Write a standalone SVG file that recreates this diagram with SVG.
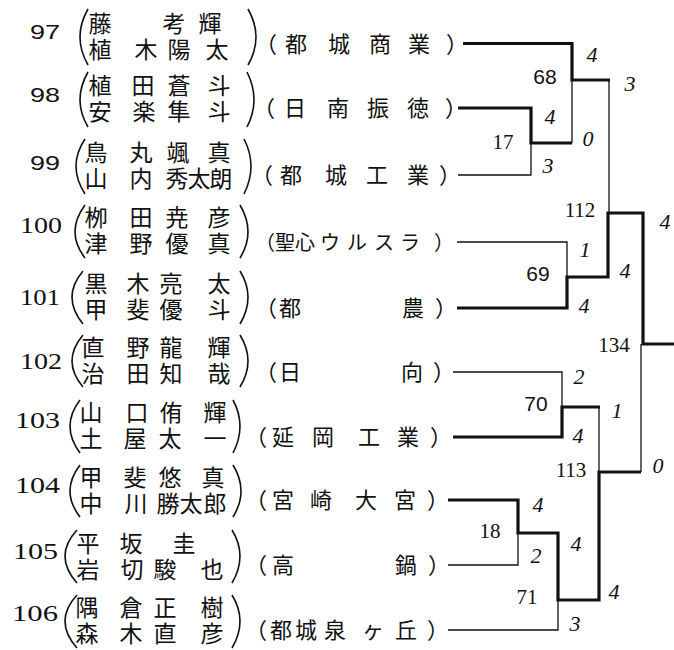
<svg xmlns="http://www.w3.org/2000/svg" width="674" height="650" viewBox="0 0 674 650">
<style>
.nm{font-family:"Liberation Sans","Noto Sans CJK JP","Noto Sans CJK SC",sans-serif;font-size:23px;text-anchor:middle;fill:#111}
.sc{font-family:"Liberation Sans","Noto Sans CJK JP","Noto Sans CJK SC",sans-serif;font-size:22px;text-anchor:middle;fill:#111}
.ns{font-family:"Liberation Sans",Arial,sans-serif;font-size:21px;fill:#111}
.nr{font-family:"Liberation Serif","Times New Roman",serif;font-size:24px;fill:#111}
.ms{font-family:"Liberation Sans",Arial,sans-serif;font-size:21px;text-anchor:middle;fill:#111}
.mr{font-family:"Liberation Serif","Times New Roman",serif;font-size:21px;text-anchor:middle;fill:#111}
.s{font-family:"Liberation Serif","Times New Roman",serif;font-style:italic;font-size:22px;text-anchor:middle;fill:#111}
.br{fill:none;stroke:#111;stroke-width:1.6}
.tk{fill:none;stroke:#111;stroke-width:3.2;stroke-linejoin:miter}
.tn{fill:none;stroke:#111;stroke-width:1.3}
</style>
<rect width="674" height="650" fill="#fff"/>

<g id="p97">
<text class="ns" x="30" y="38.5" textLength="30" lengthAdjust="spacingAndGlyphs">97</text>
<path class="br" d="M88,9 Q72,37 88,65"/>
<text class="nm" x="100 174 210" y="31.5">藤考輝</text>
<text class="nm" x="100 146 179 217" y="57.5">植木陽太</text>
<path class="br" d="M248,9 Q264,37 248,65"/>
<text class="sc" x="266 296 339 380 419 457" y="52">（都城商業）</text>
</g>

<g id="p98">
<text class="ns" x="30" y="101.5" textLength="30" lengthAdjust="spacingAndGlyphs">98</text>
<path class="br" d="M88,72 Q72,100 88,127"/>
<text class="nm" x="100 143 179 219" y="93.5">植田蒼斗</text>
<text class="nm" x="100 144 179 219" y="119.5">安楽隼斗</text>
<path class="br" d="M247,72 Q261,100 247,127"/>
<text class="sc" x="264 295 338 378 418 456" y="116">（日南振徳）</text>
</g>

<g id="p99">
<text class="ns" x="30" y="169.5" textLength="30" lengthAdjust="spacingAndGlyphs">99</text>
<path class="br" d="M85,139 Q67,166 85,194"/>
<text class="nm" x="96 141 178 219" y="161">鳥丸颯真</text>
<text class="nm" x="96 141 177 199 221" y="187">山内秀太朗</text>
<path class="br" d="M244,139 Q258,166 244,194"/>
<text class="sc" x="262 291 336 377 418 450" y="183">（都城工業）</text>
</g>

<g id="p100">
<text class="nr" x="20" y="233" textLength="42" lengthAdjust="spacingAndGlyphs">100</text>
<path class="br" d="M85,205 Q65,232 85,258"/>
<text class="nm" x="96 141 177 219" y="226">栁田尭彦</text>
<text class="nm" x="96 141 177 219" y="252">津野優真</text>
<path class="br" d="M240,205 Q256,232 240,258"/>
<text class="sc" x="265 285 305 330 357 384 410 444" y="250" style="font-size:20px">（聖心ウルスラ）</text>
</g>

<g id="p101">
<text class="nr" x="20" y="305" textLength="40" lengthAdjust="spacingAndGlyphs">101</text>
<path class="br" d="M83,271 Q61,297 83,324"/>
<text class="nm" x="96 138 171 219" y="292">黒木亮太</text>
<text class="nm" x="96 138 171 219" y="318">甲斐優斗</text>
<path class="br" d="M240,271 Q256,297 240,324"/>
<text class="sc" x="266 290 413 446" y="316">（都農）</text>
</g>

<g id="p102">
<text class="nr" x="20" y="369" textLength="42" lengthAdjust="spacingAndGlyphs">102</text>
<path class="br" d="M83,335 Q61,361 83,387"/>
<text class="nm" x="93 138 171 219" y="355.5">直野龍輝</text>
<text class="nm" x="93 138 171 219" y="381.5">治田知哉</text>
<path class="br" d="M240,335 Q256,361 240,387"/>
<text class="sc" x="266 290 412 444" y="380">（日向）</text>
</g>

<g id="p103">
<text class="nr" x="15" y="428" textLength="45" lengthAdjust="spacingAndGlyphs">103</text>
<path class="br" d="M80,400 Q60,426 80,453"/>
<text class="nm" x="91 137 171 215" y="421">山口侑輝</text>
<text class="nm" x="91 135 170 215" y="447">土屋太一</text>
<path class="br" d="M233,400 Q247,426 233,453"/>
<text class="sc" x="256 283 323 369 408 441" y="445">（延岡工業）</text>
</g>

<g id="p104">
<text class="nr" x="15" y="493" textLength="45" lengthAdjust="spacingAndGlyphs">104</text>
<path class="br" d="M80,465 Q60,491 80,517"/>
<text class="nm" x="91 135 170 213" y="485.5">甲斐悠真</text>
<text class="nm" x="91 136 168 191 215" y="511.5">中川勝太郎</text>
<path class="br" d="M233,465 Q249,491 233,517"/>
<text class="sc" x="256 283 321 366 405 438" y="508">（宮崎大宮）</text>
</g>

<g id="p105">
<text class="nr" x="13" y="559" textLength="45" lengthAdjust="spacingAndGlyphs">105</text>
<path class="br" d="M77,530 Q53,556 77,583"/>
<text class="nm" x="88 131 184" y="551.5">平坂圭</text>
<text class="nm" x="88 132 165 212" y="577.5">岩切駿也</text>
<path class="br" d="M232,530 Q248,556 232,583"/>
<text class="sc" x="256 283 406 439" y="573">（高鍋）</text>
</g>

<g id="p106">
<text class="nr" x="12" y="621" textLength="46" lengthAdjust="spacingAndGlyphs">106</text>
<path class="br" d="M77,595 Q53,621 77,648"/>
<text class="nm" x="87 131 165 212" y="616">隅倉正樹</text>
<text class="nm" x="87 131 165 212" y="642">森木直彦</text>
<path class="br" d="M232,595 Q248,621 232,648"/>
<text class="sc" x="256 281 306 335 373 406 438" y="638">（都城泉ヶ丘）</text>
</g>

<g id="connectors">
<path class="tk" d="M463,43.5 H572 V80 H610"/>
<path class="tn" d="M572,80 V143"/>
<path class="tk" d="M458,108 H531 V143 H572"/>
<path class="tn" d="M531,143 V175 H458"/>
<path class="tn" d="M609,80 V213"/>
<path class="tk" d="M457,308 H567 V277 H608 V213 H643 V344 H674"/>
<path class="tn" d="M457,242 H567 V277"/>
<path class="tn" d="M641,344 V472"/>
<path class="tk" d="M453,437 H562 V407 H600"/>
<path class="tn" d="M453,372 H562 V407"/>
<path class="tn" d="M599,407 V472"/>
<path class="tk" d="M448,500 H518 V533 H558 V600 H599 V472 H641"/>
<path class="tn" d="M518,533 V565 H448"/>
<path class="tn" d="M558,600 V630 H448"/>
</g>

<g id="m17"><text class="mr" x="503" y="149">17</text><text class="s" x="550" y="123.5">4</text><text class="s" x="548" y="172.5">3</text></g>
<g id="m68"><text class="ms" x="545" y="84">68</text><text class="s" x="592" y="61.5">4</text><text class="s" x="588" y="145.5">0</text></g>
<g id="m69"><text class="ms" x="538" y="281">69</text><text class="s" x="585" y="256.5">1</text><text class="s" x="584" y="312.5">4</text></g>
<g id="m112"><text class="mr" x="580" y="217">112</text><text class="s" x="630" y="90.5">3</text><text class="s" x="625" y="277.5">4</text></g>
<g id="m70"><text class="ms" x="536" y="411">70</text><text class="s" x="579" y="383.5">2</text><text class="s" x="578" y="442.5">4</text></g>
<g id="m18"><text class="mr" x="490" y="538">18</text><text class="s" x="538" y="511.5">4</text><text class="s" x="536" y="562.5">2</text></g>
<g id="m71"><text class="mr" x="527" y="604">71</text><text class="s" x="576" y="550.5">4</text><text class="s" x="575" y="630.5">3</text></g>
<g id="m113"><text class="mr" x="571" y="477">113</text><text class="s" x="617" y="417.5">1</text><text class="s" x="614" y="598.5">4</text></g>
<g id="m134"><text class="mr" x="614" y="352">134</text><text class="s" x="665" y="228.5">4</text><text class="s" x="658" y="472.5">0</text></g>
</svg>
